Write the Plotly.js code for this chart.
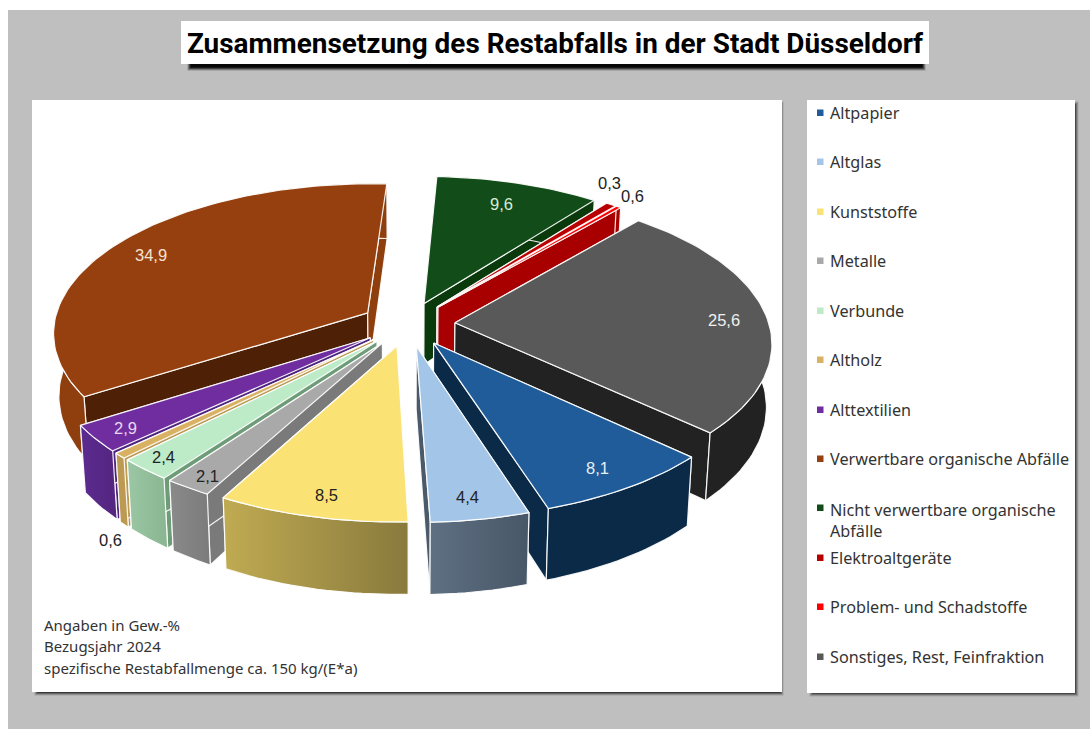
<!DOCTYPE html>
<html><head><meta charset="utf-8">
<script src="https://cdn.plot.ly/plotly-3.0.1.min.js"></script>
<style>html,body{margin:0;padding:0;background:#fff;overflow:hidden}#c{width:1090px;height:729px}</style>
</head><body><div id="c"></div>
<script>
// ---- data ----
const categories = ["Altpapier","Altglas","Kunststoffe","Metalle","Verbunde","Altholz","Alttextilien","Verwertbare organische Abfälle","Nicht verwertbare organische Abfälle","Elektroaltgeräte","Problem- und Schadstoffe","Sonstiges, Rest, Feinfraktion"];
const values = [8.1,4.4,8.5,2.1,2.4,0.6,2.9,34.9,9.6,0.6,0.3,25.6];
const legendLabels = ["Altpapier","Altglas","Kunststoffe","Metalle","Verbunde","Altholz","Alttextilien","Verwertbare organische Abfälle","Nicht verwertbare organische<br>Abfälle","Elektroaltgeräte","Problem- und Schadstoffe","Sonstiges, Rest, Feinfraktion"];
const noteLines = ["Angaben in Gew.-%","Bezugsjahr 2024","spezifische Restabfallmenge ca. 150 kg/(E*a)"];
const titleText = "Zusammensetzung des Restabfalls in der Stadt Düsseldorf";

// ---- style ----
const topColors = ["#1f5c99","#a3c6e8","#fbe275","#a9a9a9","#bdebc8","#d9b163","#6f2da0","#96400f","#124c18","#b80000","#ff0000","#595959"];
const sideColors = ["#0b2a47","#55687c","#a8964c","#7e7e7e","#8fbd98","#bd9a52","#5a2a8c","#8f3f0e","#0a3a0c","#a00000","#a80000","#222222"];
const radialColors = ["#0b2a47","#4a5a6b","#a8964c","#7a7a7a","#6f9c78","#bd9a52","#4e2380","#4e2005","#0a3a0c","#a00000","#a80000","#222222"];
const sideGrad = {1:["#5f7083","#475767"],2:["#c0ab52","#897a3d"],3:["#8a8a8a","#7b7b7b"],4:["#9cc7a4","#8ab591"],6:["#5c2a90","#53267f"]};
const labelColors = ["#e8f0f8","#222","#222","#222","#222","#222","#e8d8f4","#f6e2d2","#d8ecd8","#222","#222","#f0f0f0"];
const labelPx = [[597,468],[467,497],[326,495],[207,476],[163,457],[110,540],[125,428],[151,255],[501,204],[632,196],[609,183],[724,320]];
// ---- projection of the exploded disc ----
const x0=408,y0=324,a=314,b=148,k=0.125,expl=0.15,depth=62,startDeg=133;
function proj(X,V,low){
  const s=1/(1-k*V); let x=x0+a*X*s, y=y0+b*V*s;
  if(low){x=x0+(x-x0)*0.985; y+=depth*s;}
  return [x,y];
}
const total=values.reduce((p,c)=>p+c,0);
let acc=0;
const slices=values.map((v,i)=>{
  const t0=startDeg+acc/total*360; acc+=v; const t1=startDeg+acc/total*360;
  const m=(t0+t1)/2*Math.PI/180;
  return {i,t0,t1,m,cX:expl*Math.sin(m),cV:-expl*Math.cos(m)};
});
function rim(s,deg,low){const r=deg*Math.PI/180;return proj(s.cX+Math.sin(r),s.cV-Math.cos(r),low);}
function arc(s,low,rev){
  const n=Math.max(2,Math.ceil((s.t1-s.t0)/1.5)),pts=[];
  for(let j=0;j<=n;j++)pts.push(rim(s,s.t0+(s.t1-s.t0)*j/n,low));
  return rev?pts.reverse():pts;
}
function poly(pts,fill,name,grad){
  const tr={type:"scatter",mode:"lines",x:pts.map(p=>p[0]).concat(pts[0][0]),y:pts.map(p=>p[1]).concat(pts[0][1]),
    fill:"toself",fillcolor:fill,line:{color:"rgba(255,255,255,0.92)",width:1.2},showlegend:false,name:name,hoverinfo:"name"};
  if(grad)tr.fillgradient={type:"horizontal",colorscale:[[0,grad[0]],[1,grad[1]]]};
  return tr;
}
const traces=[];
slices.slice().sort((p,q)=>(-Math.cos(p.m))-(-Math.cos(q.m))).forEach(s=>{
  const nm=categories[s.i];
  const tipT=proj(s.cX,s.cV,false),tipB=proj(s.cX,s.cV,true);
  traces.push(poly([tipT,rim(s,s.t0,false),rim(s,s.t0,true),tipB],radialColors[s.i],nm));
  traces.push(poly([tipT,rim(s,s.t1,false),rim(s,s.t1,true),tipB],s.i===7?sideColors[s.i]:radialColors[s.i],nm));
  traces.push(poly(arc(s,false,false).concat(arc(s,true,true)),sideColors[s.i],nm,sideGrad[s.i]));
  traces.push(poly([tipT].concat(arc(s,false,false)),topColors[s.i],nm));
});

// ---- panels ----
function rect(x1,y1,x2,y2,c,op,layer){return {type:"rect",xref:"x",yref:"y",x0:x1,y0:y1,x1:x2,y1:y2,fillcolor:c,opacity:op===undefined?1:op,line:{width:0},layer:layer||"below"};}
function shadow(x1,y1,x2,y2,ox,oy,f){
  const out=[];
  [[2.5,0.12],[1.5,0.18],[0.5,0.28],[-0.5,0.4]].forEach(q=>out.push(rect(x1+ox-q[0],y1+oy-q[0],x2+ox+q[0],y2+oy+q[0],"#000",q[1]*(f||1))));
  return out;
}
const shapes=[rect(8,10,1090,729,"#bfbfbf")]
  .concat(shadow(190,22,923,66,0,2,2)).concat([rect(181,21,929,64,"#ffffff")])
  .concat(shadow(36,102,780,691,1,2,1.3)).concat([rect(32,100,782,692,"#ffffff")])
  .concat(shadow(811,102,1075,692,1,2,1.1)).concat([rect(807,100,1075,693,"#ffffff")]);

const annotations=[];
const legY=[113,162,212,261,311,360,410,459,508,558,607,657];
legendLabels.forEach((t,i)=>{
  shapes.push(rect(817,legY[i]-3.5,823.5,legY[i]+3,topColors[i],1,"above"));
  const two=t.indexOf("<br>")>=0;
  annotations.push({xref:"x",yref:"y",x:828,y:two?legY[i]+12:legY[i],text:t,showarrow:false,xanchor:"left",yanchor:"middle",align:"left",
    font:{family:"Noto Sans, sans-serif",size:16.2,color:"#333"}});
});
const noteY=[625,646,668];
noteLines.forEach((t,i)=>annotations.push({xref:"x",yref:"y",x:42,y:noteY[i],text:t,showarrow:false,xanchor:"left",yanchor:"middle",
  font:{family:"Noto Sans, sans-serif",size:15,color:"#333"}}));
values.forEach((v,i)=>annotations.push({xref:"x",yref:"y",x:labelPx[i][0],y:labelPx[i][1],text:String(v).replace(".",","),showarrow:false,
  xanchor:"center",yanchor:"middle",font:{family:"Liberation Sans, Arial, sans-serif",size:16.5,color:labelColors[i]}}));

Plotly.newPlot("c",traces,{
  width:1090,height:729,margin:{l:0,r:0,t:0,b:0,pad:0},
  paper_bgcolor:"#fff",plot_bgcolor:"rgba(0,0,0,0)",
  title:{text:"<b>"+titleText+"</b>",x:555/1090,xanchor:"center",y:1-43/729,yanchor:"middle",xref:"paper",yref:"paper",pad:{t:0,b:0,l:0,r:0},
    font:{family:"Roboto, sans-serif",size:27.9,color:"#000"}},
  xaxis:{range:[0,1090],visible:false,fixedrange:true},
  yaxis:{range:[729,0],visible:false,fixedrange:true},
  shapes:shapes,annotations:annotations,showlegend:false,hovermode:"closest"
},{displayModeBar:false,staticPlot:false});
</script></body></html>
